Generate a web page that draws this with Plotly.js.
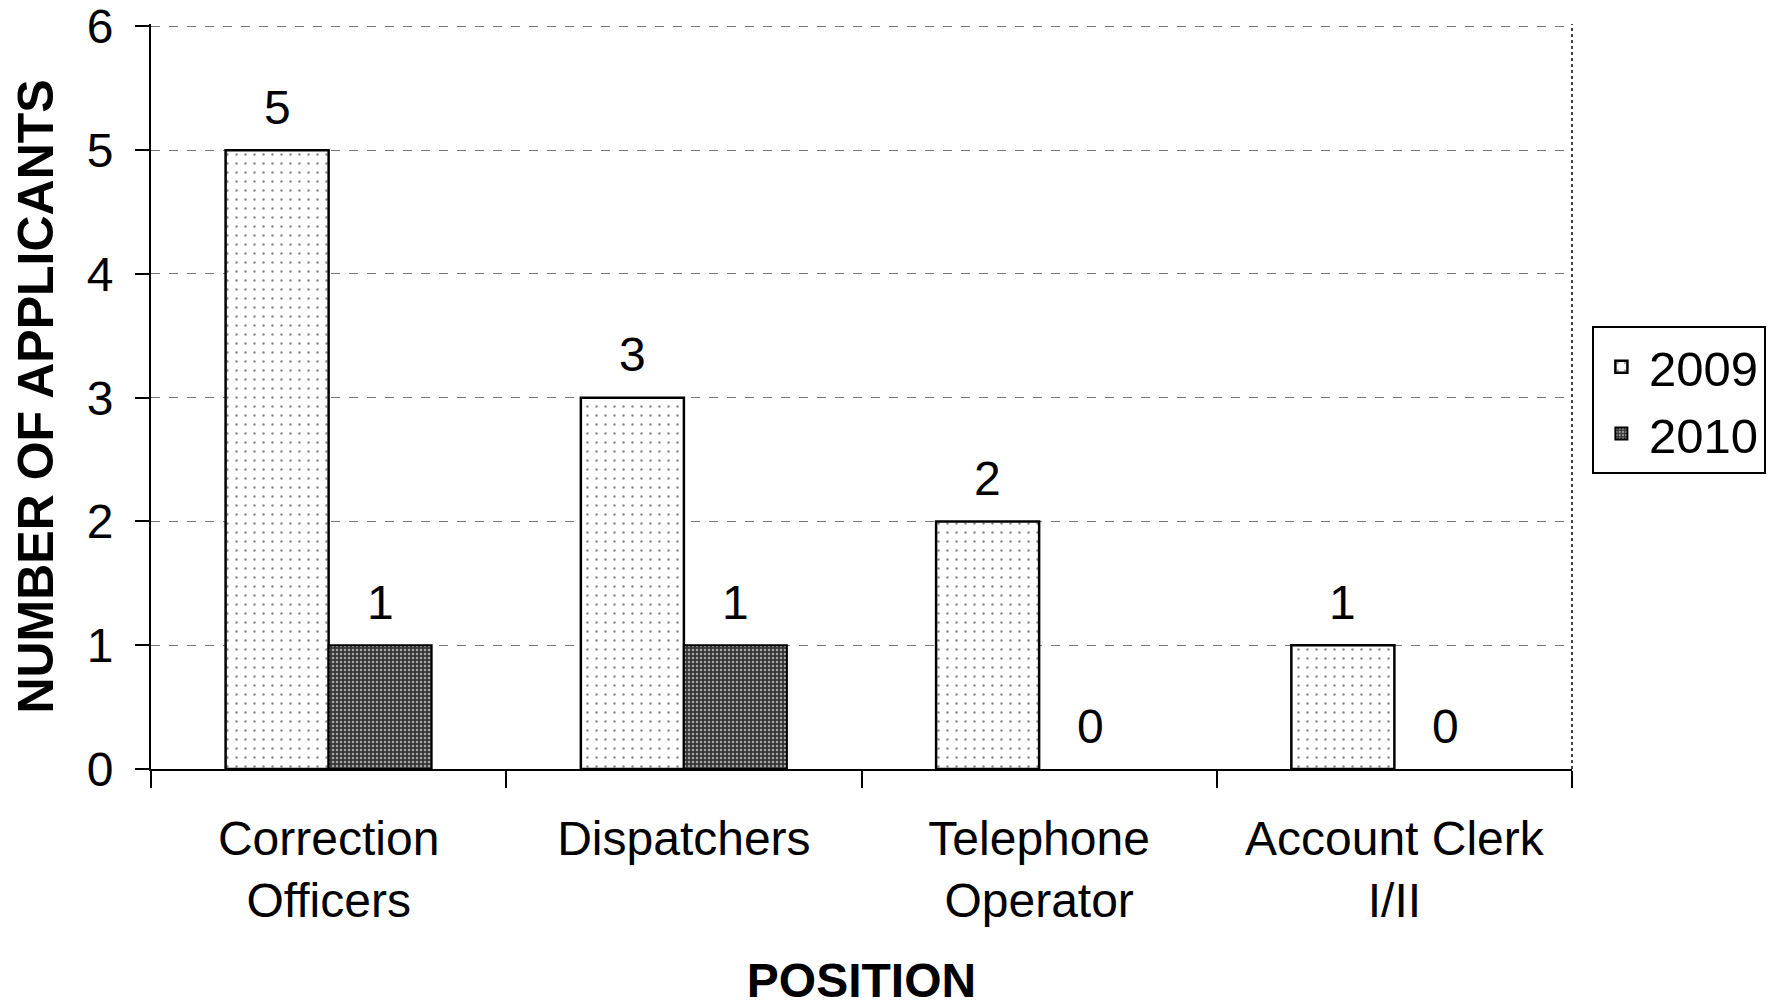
<!DOCTYPE html>
<html>
<head>
<meta charset="utf-8">
<script src="https://cdn.plot.ly/plotly-3.0.1.min.js"></script>
<style>html,body{margin:0;padding:0;background:#fff;}#chart{width:1781px;height:1008px;}</style>
</head>
<body>
<div id="chart"></div>
<script>
const categories = ["Correction<br>Officers", "Dispatchers", "Telephone<br>Operator", "Account Clerk<br>I/II"];
const seriesNames = ["2009", "2010"];
const values2009 = [5, 3, 2, 1];
const values2010 = [1, 1, 0, 0];
const yTickVals = [0, 1, 2, 3, 4, 5, 6];

const FONT = "Liberation Sans, Arial, Helvetica, sans-serif";
const W = 1781, H = 1008;
const M = {l: 151, r: 209, t: 23.5, b: 239};
const BARGAP = 0.42;
const plotW = W - M.l - M.r;
const catW = plotW / categories.length;
const barW = catW * (1 - BARGAP) / 2;

const traces = [
  {
    type: "bar", name: seriesNames[0], x: categories, y: values2009,
    marker: {
      color: "#ffffff",
      line: {color: "#000000", width: values2009.map(v => v > 0 ? 2.5 : 0)},
      pattern: {shape: ".", fgcolor: "#8a8a8a", bgcolor: "#ffffff", size: 9, solidity: 0.06}
    },
    hoverinfo: "x+y"
  },
  {
    type: "bar", name: seriesNames[1], x: categories, y: values2010,
    marker: {
      color: "#444444",
      line: {color: "#000000", width: values2010.map(v => v > 0 ? 2 : 0)},
      pattern: {shape: ".", fgcolor: "#a8a8a8", bgcolor: "#363636", size: 4, solidity: 0.3}
    },
    hoverinfo: "x+y"
  }
];

const annotations = [];
[values2009, values2010].forEach((vals, s) => {
  vals.forEach((v, i) => {
    annotations.push({
      x: categories[i], y: v, xref: "x", yref: "y",
      text: String(v), showarrow: false,
      xshift: (s === 0 ? -1 : 1) * barW / 2,
      yshift: 43, yanchor: "middle",
      font: {family: FONT, size: 48, color: "#000"}
    });
  });
});

const layout = {
  width: W, height: H,
  margin: M,
  paper_bgcolor: "#ffffff", plot_bgcolor: "#ffffff",
  font: {family: FONT, size: 48, color: "#000"},
  barmode: "group", bargap: BARGAP, bargroupgap: 0,
  showlegend: true,
  legend: {
    x: 1.014, y: 0.594, xanchor: "left", yanchor: "top",
    bordercolor: "#000", borderwidth: 2, bgcolor: "#fff",
    font: {family: FONT, size: 49, color: "#000"},
    tracegroupgap: 0, itemwidth: 45
  },
  xaxis: {
    type: "category",
    showline: true, linecolor: "#000", linewidth: 2,
    ticks: "outside", tickson: "boundaries", ticklen: 17, tickcolor: "#000", tickwidth: 2,
    ticklabelstandoff: 26,
    showgrid: false, zeroline: false,
    tickfont: {family: FONT, size: 48, color: "#000"},
    title: {text: "<b>POSITION</b>", standoff: 37, font: {family: FONT, size: 48, color: "#000"}}
  },
  yaxis: {
    range: [0, 6.02], tickvals: yTickVals,
    showline: true, linecolor: "#000", linewidth: 2,
    ticks: "outside", ticklen: 14, tickcolor: "#000", tickwidth: 2,
    ticklabelstandoff: 12,
    showgrid: true, gridcolor: "#777", griddash: "dash", gridwidth: 1,
    zeroline: false,
    tickfont: {family: FONT, size: 48, color: "#000"},
    title: {text: "<b>NUMBER OF APPLICANTS</b>", standoff: 17, font: {family: FONT, size: 50, color: "#000"}}
  },
  shapes: [
    {type: "line", xref: "paper", yref: "paper", x0: 1, x1: 1, y0: 0, y1: 1,
     line: {color: "#444", width: 2, dash: "dot"}}
  ],
  annotations: annotations
};

Plotly.newPlot("chart", traces, layout, {displayModeBar: false, staticPlot: true});
</script>
</body>
</html>
